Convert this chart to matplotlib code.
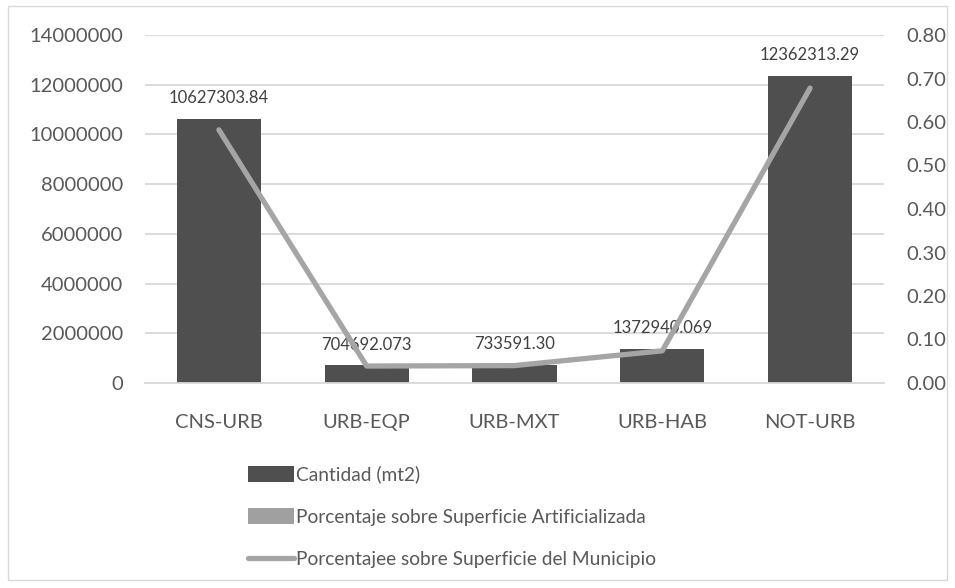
import matplotlib
matplotlib.use("Agg")
import matplotlib.pyplot as plt
from matplotlib.patches import Patch, Rectangle
from matplotlib.lines import Line2D
import numpy as np

plt.rcParams['font.family'] = ['Lato', 'DejaVu Sans']

categories = ["CNS-URB", "URB-EQP", "URB-MXT", "URB-HAB", "NOT-URB"]
cantidad = [10627303.84, 704692.073, 733591.30, 1372940.069, 12362313.29]
cantidad_labels = ["10627303.84", "704692.073", "733591.30", "1372940.069", "12362313.29"]
pct_municipio = [0.582, 0.039, 0.040, 0.074, 0.678]
left_ticks = [0, 2000000, 4000000, 6000000, 8000000, 10000000, 12000000, 14000000]
right_ticks = [0.0, 0.1, 0.2, 0.3, 0.4, 0.5, 0.6, 0.7, 0.8]

BAR = "#4f4f4f"
LINE = "#a5a5a5"
BAR2 = "#a0a0a0"
TXT = "#595959"
GRID = "#d9d9d9"

W, H = 955, 588
fig = plt.figure(figsize=(W / 100, H / 100), dpi=100)

# outer chart border
fig.patches.append(Rectangle((8 / W, 8 / H), (W - 16) / W, (H - 14) / H,
                             transform=fig.transFigure, fill=False,
                             edgecolor=GRID, linewidth=1.0))

left, right, top, bottom = 145, 884, 35, 383
ax = fig.add_axes([left / W, 1 - bottom / H, (right - left) / W, (bottom - top) / H])
x = np.arange(len(categories))
ax.bar(x, cantidad, width=0.57, color=BAR, zorder=2)
ax.set_xlim(-0.5, len(categories) - 0.5)
ax.set_ylim(0, 14000000)
ax.set_yticks(left_ticks)
ax.set_yticklabels([str(v) for v in left_ticks])
ax.yaxis.grid(True, color=GRID, linewidth=1.3, zorder=0)
ax.set_axisbelow(True)
for s in ["top", "right", "left"]:
    ax.spines[s].set_visible(False)
ax.spines["bottom"].set_color(GRID)
ax.spines["bottom"].set_linewidth(1.3)
ax.tick_params(axis="both", length=0, labelsize=14.5, colors=TXT)
ax.tick_params(axis="y", pad=16)
ax.tick_params(axis="x", pad=22)
ax.set_xticks(x)
ax.set_xticklabels(categories)

for xi, v, lab in zip(x, cantidad, cantidad_labels):
    ax.annotate(lab, (xi, v), xytext=(0, 9), textcoords="offset points",
                ha="center", va="bottom", fontsize=12, color="#404040")

ax2 = ax.twinx()
ax2.plot(x, pct_municipio, color=LINE, linewidth=3.8, solid_capstyle="round", zorder=3)
ax2.set_ylim(0, 0.8)
ax2.set_yticks(right_ticks)
ax2.set_yticklabels([f"{v:.2f}" for v in right_ticks])
for s in ["top", "right", "left", "bottom"]:
    ax2.spines[s].set_visible(False)
ax2.tick_params(axis="y", length=0, labelsize=14.5, colors=TXT, pad=16)

handles = [
    Patch(facecolor=BAR, edgecolor="none"),
    Patch(facecolor=BAR2, edgecolor="none"),
    Line2D([0], [0], color=LINE, linewidth=3.8, solid_capstyle="round"),
]
labels = ["Cantidad (mt2)", "Porcentaje sobre Superficie Artificializada",
          "Porcentajee sobre Superficie del Municipio"]
fig.legend(handles, labels, loc="upper left", bbox_to_anchor=(238 / W, 1 - 456 / H),
           frameon=False, fontsize=13.8, labelcolor=TXT, handlelength=2.4,
           handleheight=0.9, handletextpad=0.1, labelspacing=1.3, borderpad=0)

fig.savefig("out.png", dpi=100)
